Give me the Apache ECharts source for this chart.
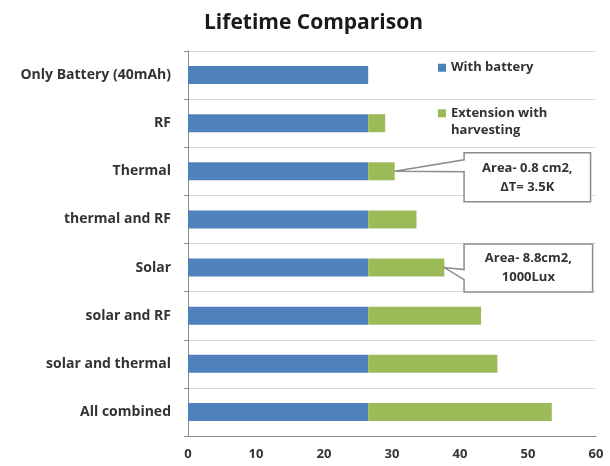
<!DOCTYPE html>
<html>
<head>
<meta charset="utf-8">
<script src="https://cdn.jsdelivr.net/npm/echarts@6/dist/echarts.min.js"></script>
<style>html,body{margin:0;padding:0;background:#fff}#c{width:610px;height:466px}</style>
</head>
<body>
<div id="c"></div>
<script>
var categories = ['Only Battery (40mAh)', 'RF', 'Thermal', 'thermal and RF', 'Solar', 'solar and RF', 'solar and thermal', 'All combined'];
var withBattery = [26.5, 26.5, 26.5, 26.5, 26.5, 26.5, 26.5, 26.5];
var extension = [0, 2.5, 3.9, 7.1, 11.2, 16.6, 19.0, 27.0];
var xTicks = [0, 10, 20, 30, 40, 50, 60];
var seriesNames = ['With battery', 'Extension with harvesting'];
var callouts = [
  { category: 'Thermal', lines: ['Area- 0.8 cm2,', '\u0394T= 3.5K'] },
  { category: 'Solar', lines: ['Area- 8.8cm2,', '1000Lux'] }
];

var FONT = '"Open Sans", "DejaVu Sans", sans-serif';
var chart = echarts.init(document.getElementById('c'), null, { renderer: 'canvas' });
var legendText = { fontFamily: FONT, fontSize: 13, fontWeight: 'bold', color: '#333', lineHeight: 17.5 };
chart.setOption({
  animation: false,
  backgroundColor: '#ffffff',
  title: {
    text: 'Lifetime Comparison',
    left: 199,
    top: 8,
    textStyle: { fontFamily: FONT, fontSize: 21, fontWeight: 'bold', color: '#1a1a1a' }
  },
  legend: [{
    orient: 'vertical',
    left: 433,
    top: 54,
    itemWidth: 8,
    itemHeight: 8,
    icon: 'rect',
    data: [seriesNames[0]],
    textStyle: legendText
  }, {
    orient: 'vertical',
    left: 433,
    top: 82,
    itemWidth: 8,
    itemHeight: 8,
    icon: 'rect',
    data: [seriesNames[1]],
    formatter: function () { return ' \nExtension with\nharvesting'; },
    textStyle: legendText
  }],
  grid: { left: 188, right: 14, top: 51, bottom: 30, containLabel: false },
  xAxis: {
    type: 'value',
    min: 0, max: 60, interval: 10,
    axisLine: { show: true, lineStyle: { color: '#8c8c8c', width: 1 } },
    axisTick: { show: false },
    splitLine: { show: false },
    axisLabel: {
      margin: 12,
      fontFamily: FONT, fontSize: 13, fontWeight: 'bold', color: '#333',
      formatter: function (v) { return xTicks.indexOf(v) >= 0 ? String(v) : ''; }
    }
  },
  yAxis: {
    type: 'category',
    inverse: true,
    data: categories,
    axisLine: { show: true, lineStyle: { color: '#8c8c8c', width: 1 } },
    axisTick: { show: true, length: 4, lineStyle: { color: '#8c8c8c' } },
    splitLine: { show: true, lineStyle: { color: '#d9d9d9', width: 1 } },
    axisLabel: { margin: 17, fontFamily: FONT, fontSize: 14, fontWeight: 'bold', color: '#333' }
  },
  series: [
    { name: seriesNames[0], type: 'bar', stack: 'a', barWidth: 18, data: withBattery, itemStyle: { color: '#4F81BD' } },
    { name: seriesNames[1], type: 'bar', stack: 'a', barWidth: 18, data: extension, itemStyle: { color: '#9BBB59' } }
  ]
});

// Callout boxes anchored in data coordinates
function px(x, cat) { return chart.convertToPixel({ gridIndex: 0 }, [x, cat]); }
var graphics = [];
var boxSpecs = [
  { x0: 40.6, x1: 59.2, dyTop: -18.5, dyBot: 30.5, w1: -11.5, w2: 0.5 },
  { x0: 40.6, x1: 59.5, dyTop: -23.5, dyBot: 24.5, w1: 2, w2: 12 }
];
callouts.forEach(function (c, i) {
  var idx = categories.indexOf(c.category);
  var end = withBattery[idx] + extension[idx];
  var tip = px(end, c.category);
  var s = boxSpecs[i];
  var a = px(s.x0, c.category), b = px(s.x1, c.category);
  var cy = a[1];
  var L = a[0], R = b[0], T = cy + s.dyTop, B = cy + s.dyBot;
  graphics.push({
    type: 'polygon',
    shape: { points: [[L, T], [R, T], [R, B], [L, B], [L, cy + s.w2], [tip[0], tip[1]], [L, cy + s.w1]] },
    style: { fill: '#ffffff', stroke: '#8c8c8c', lineWidth: 1.5 },
    z: 100
  });
  graphics.push({
    type: 'text',
    x: (L + R) / 2, y: (T + B) / 2,
    style: {
      text: c.lines.join('\n'),
      fontFamily: FONT, fontSize: 13, fontWeight: 'bold', fill: '#333',
      align: 'center', verticalAlign: 'middle', lineHeight: 19
    },
    z: 101
  });
});
chart.setOption({ graphic: graphics });
</script>
</body>
</html>
